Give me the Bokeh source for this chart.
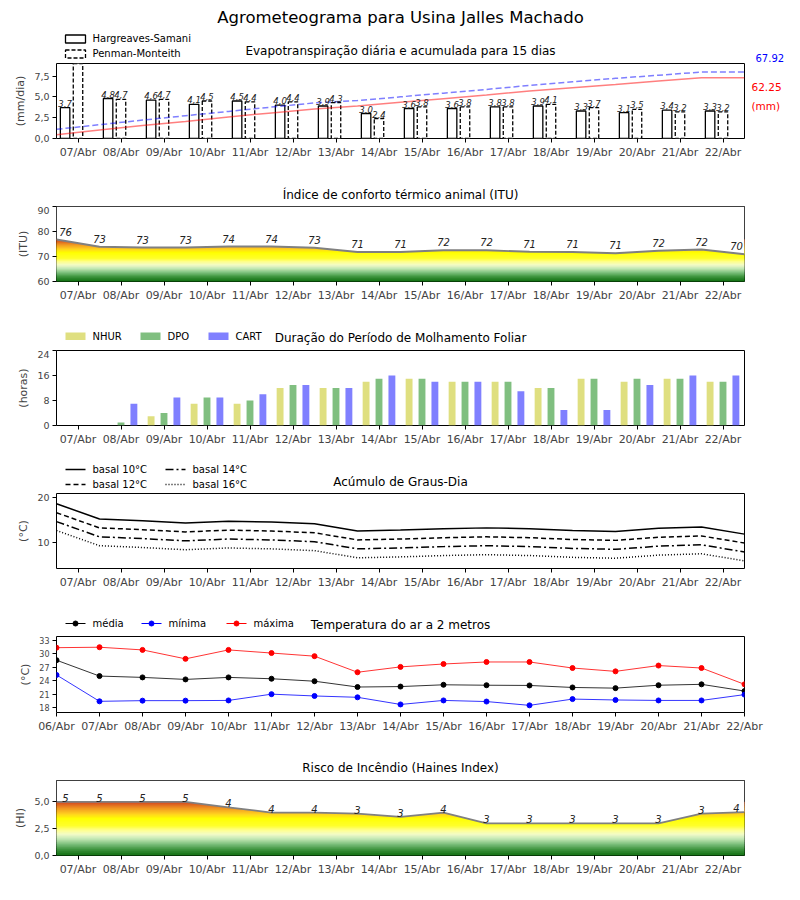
import numpy as np
from bokeh.plotting import figure
from bokeh.models import Range1d, FixedTicker, LinearAxis
from bokeh.layouts import column
from bokeh.embed import file_html
from bokeh.resources import INLINE
from bokeh.core.properties import value

# ---------------- data ----------------
main_title = "Agrometeograma para Usina Jalles Machado"
titles = ["Evapotranspiração diária e acumulada para 15 dias",
          "Índice de conforto térmico animal (ITU)",
          "Duração do Período de Molhamento Foliar",
          "Acúmulo de Graus-Dia",
          "Temperatura do ar a 2 metros",
          "Risco de Incêndio (Haines Index)"]

day_labels = ["07/Abr", "08/Abr", "09/Abr", "10/Abr", "11/Abr", "12/Abr", "13/Abr", "14/Abr",
              "15/Abr", "16/Abr", "17/Abr", "18/Abr", "19/Abr", "20/Abr", "21/Abr", "22/Abr"]
edge_labels = ["06/Abr"] + day_labels

et_names = ["Hargreaves-Samani", "Penman-Monteith"]
et_hs = [3.7, 4.8, 4.6, 4.1, 4.5, 4.0, 3.9, 3.0, 3.6, 3.6, 3.8, 3.9, 3.3, 3.1, 3.4, 3.3]
et_pm = [9.4, 4.7, 4.7, 4.5, 4.4, 4.4, 4.3, 2.4, 3.8, 3.8, 3.8, 4.1, 3.7, 3.5, 3.2, 3.2]
acc_pm = [9.4, 14.1, 18.8, 23.3, 27.7, 32.1, 36.4, 38.8, 42.6, 46.4, 50.2, 54.3, 58.0, 61.5, 64.7, 67.92, 67.92]
acc_hs = [3.75, 8.6, 13.3, 17.5, 22.1, 26.2, 30.2, 33.3, 37.0, 40.7, 44.6, 48.6, 52.0, 55.2, 58.7, 62.25, 62.25]
acc_pm_total = "67.92"
acc_hs_total = "62.25"

itu = [76.8, 73.9, 73.6, 73.6, 74.0, 74.0, 73.5, 71.8, 71.8, 72.5, 72.5, 71.9, 71.8, 71.3, 72.3, 72.8, 70.9]

wet_names = ["NHUR", "DPO", "CART"]
nhur = [0, 0, 3, 7, 7, 12, 12, 14, 15, 14, 14, 12, 15, 14, 15, 14]
dpo = [0, 1, 4, 9, 8, 13, 12, 15, 15, 14, 14, 12, 15, 15, 15, 14]
cart = [0, 7, 9, 9, 10, 13, 12, 16, 14, 14, 11, 5, 5, 13, 16, 16]

gd_names = ["basal 10°C", "basal 12°C", "basal 14°C", "basal 16°C"]
gd10 = [18.7, 15.3, 14.9, 14.4, 14.8, 14.6, 14.2, 12.6, 12.8, 13.1, 13.3, 13.1, 12.7, 12.5, 13.2, 13.5, 11.9]
gd12 = [16.7, 13.3, 12.9, 12.4, 12.8, 12.6, 12.2, 10.6, 10.8, 11.1, 11.3, 11.1, 10.7, 10.5, 11.2, 11.5, 9.9]
gd14 = [14.7, 11.3, 10.9, 10.4, 10.8, 10.6, 10.2, 8.6, 8.8, 9.1, 9.3, 9.1, 8.7, 8.5, 9.2, 9.5, 7.9]
gd16 = [12.7, 9.3, 8.9, 8.4, 8.8, 8.6, 8.2, 6.6, 6.8, 7.1, 7.3, 7.1, 6.7, 6.5, 7.2, 7.5, 5.9]

t_names = ["média", "mínima", "máxima"]
t_max = [31.4, 31.5, 30.9, 28.9, 30.9, 30.2, 29.5, 25.9, 27.1, 27.75, 28.2, 28.2, 26.85, 26.1, 27.4, 26.85, 23.2]
t_med = [28.6, 25.05, 24.75, 24.3, 24.75, 24.45, 23.9, 22.6, 22.7, 23.1, 23.0, 22.95, 22.5, 22.35, 23.0, 23.2, 21.7]
t_min = [25.3, 19.4, 19.55, 19.55, 19.6, 21.0, 20.6, 20.3, 18.7, 19.6, 19.35, 18.5, 19.9, 19.7, 19.6, 19.6, 20.9]

haines = [5.0, 5.0, 5.0, 5.0, 4.5, 4.0, 4.0, 3.9, 3.6, 4.0, 3.0, 3.0, 3.0, 3.0, 3.0, 3.9, 4.05]

# ---------------- helpers ----------------
FONT = "DejaVu Sans"
x_day = np.arange(len(day_labels), dtype=float)
x_edge = np.arange(len(edge_labels), dtype=float) - 0.5

grad_stops = [(0.00, "#0b6b0b"), (0.12, "#3a923a"), (0.22, "#7cc07c"), (0.32, "#c4e8b4"),
              (0.40, "#f2fcc8"), (0.48, "#ffff8c"), (0.56, "#ffff28"), (0.70, "#ffff00"),
              (0.78, "#ffd21e"), (0.88, "#f39a1e"), (1.00, "#d2461e")]


def hex2rgb(h):
    return [int(h[i:i + 2], 16) for i in (1, 3, 5)]


def grad_color(f):
    f = min(max(f, 0.0), 1.0)
    for (f0, c0), (f1, c1) in zip(grad_stops, grad_stops[1:]):
        if f <= f1:
            t = (f - f0) / (f1 - f0)
            a, b = hex2rgb(c0), hex2rgb(c1)
            c = [round(a[k] + (b[k] - a[k]) * t) for k in range(3)]
            return "#%02x%02x%02x" % tuple(c)
    return grad_stops[-1][1]


def htext(p, x, y, txt, size="10px", align="left", color="black"):
    p.text(x=[x], y=[y], text=[txt], text_align=align, text_baseline="middle",
           text_font=value(FONT), text_font_size=size, text_color=color)


def make_header(h, title, title_y):
    # header strip in page-pixel coordinates (x: page px, y: px from the strip top)
    p = figure(frame_width=688, frame_height=h, min_border_left=56, min_border_right=56,
               min_border_top=0, min_border_bottom=0, x_range=Range1d(56, 744),
               y_range=Range1d(h, 0), x_axis_location=None, y_axis_location=None,
               output_backend="svg", toolbar_location=None, title=None)
    p.outline_line_color = None
    p.xgrid.visible = False
    p.ygrid.visible = False
    p.background_fill_color = "white"
    p.border_fill_color = "white"
    htext(p, 400, title_y, title, size="12px", align="center")
    return p


def make_fig(ylabel, y0, y1, yticks, yover=None, edge_ticks=False, ytick_size="9.5px", fh=75):
    p = figure(frame_width=688, frame_height=fh, min_border_left=56, min_border_right=56,
               min_border_top=0, min_border_bottom=25, x_range=Range1d(-0.5, 15.5),
               y_range=Range1d(y0, y1), output_backend="svg", toolbar_location=None,
               title=None)
    p.xgrid.visible = False
    p.ygrid.visible = False
    p.outline_line_color = "black"
    p.outline_line_alpha = 1
    p.outline_line_width = 1
    p.background_fill_color = "white"
    p.border_fill_color = "white"
    if edge_ticks:
        p.xaxis.ticker = FixedTicker(ticks=list(x_edge))
        p.xaxis.major_label_overrides = {float(x): l for x, l in zip(x_edge, edge_labels)}
    else:
        p.xaxis.ticker = FixedTicker(ticks=list(x_day))
        p.xaxis.major_label_overrides = {float(x): l for x, l in zip(x_day, day_labels)}
    p.yaxis.ticker = FixedTicker(ticks=yticks)
    if yover:
        p.yaxis.major_label_overrides = yover
    for ax in (p.xaxis, p.yaxis):
        ax.axis_line_color = None
        ax.major_tick_line_color = "black"
        ax.major_tick_out = 4
        ax.major_tick_in = 0
        ax.minor_tick_line_color = None
        ax.major_label_text_font = FONT
        ax.major_label_standoff = 3
    p.xaxis.major_label_text_font_size = "11px"
    p.yaxis.major_label_text_font_size = ytick_size
    p.yaxis.axis_label = ylabel
    p.yaxis.axis_label_text_font = FONT
    p.yaxis.axis_label_text_font_size = "11px"
    p.yaxis.axis_label_text_font_style = "normal"
    p.yaxis.axis_label_standoff = 4
    return p


def right_axis(p, range_name, ticks, labels, color, standoff, size="10px"):
    ax = LinearAxis(y_range_name=range_name, ticker=FixedTicker(ticks=ticks),
                    major_label_overrides=dict(zip(ticks, labels)))
    ax.axis_line_color = None
    ax.major_tick_line_color = None
    ax.major_tick_out = 0
    ax.major_tick_in = 0
    ax.minor_tick_line_color = None
    ax.minor_tick_out = 0
    ax.major_label_standoff = standoff
    ax.major_label_text_color = color
    ax.major_label_text_font = FONT
    ax.major_label_text_font_size = size
    p.add_layout(ax, "right")


def gradient_area(p, xs, ys, y0, ytop):
    ymax = max(ys)
    n = 80
    edges = np.linspace(y0, ymax, n + 1)
    cols = [grad_color((i + 0.5) / n) for i in range(n)]
    p.quad(left=-0.5, right=15.5, bottom=edges[:-1], top=edges[1:], fill_color=cols,
           line_color=cols, line_width=0.6)
    p.varea(x=xs, y1=ys, y2=ytop, fill_color="white")
    p.line(xs, ys, line_color="#808080", line_width=1.8)


fmt = lambda v: ("%.1f" % v).replace(".", ",")

# ---------------- header 1 + panel 1: evapotranspiration ----------------
ET_TOP = 9.0
h1 = make_header(63, titles[0], 50)
htext(h1, 400, 17, main_title, size="16.5px", align="center")
h1.extra_y_ranges = {"px": Range1d(63, 0)}
right_axis(h1, "px", [57.5], [acc_pm_total], "blue", 11)
for yc, dash, name in ((38.5, "solid", et_names[0]), (53.5, "4 2", et_names[1])):
    h1.quad(left=65, right=85, top=yc - 4, bottom=yc + 4, fill_color="white",
            line_color="black", line_width=1.3, line_dash=dash)
    htext(h1, 92, yc - 0.5, name)

p1 = make_fig("(mm/dia)", 0, ET_TOP, [0, 2.5, 5, 7.5], {0: "0,0", 2.5: "2,5", 5: "5,0", 7.5: "7,5"})
p1.extra_y_ranges = {"acc": Range1d(0, 76.7), "px": Range1d(0, 75)}
p1.vbar(x=x_day - 0.3, top=et_hs, width=0.22, fill_color="white", line_color="black",
        line_width=1.3)
p1.vbar(x=x_day, top=et_pm, width=0.22, fill_color="white", line_color="black",
        line_width=1.3, line_dash="4 2")
p1.line(x_edge, acc_pm, y_range_name="acc", line_color="blue", line_alpha=0.5,
        line_dash="6 3", line_width=1.5)
p1.line(x_edge, acc_hs, y_range_name="acc", line_color="red", line_alpha=0.5, line_width=1.5)
for xs, vals in ((x_day - 0.3, et_hs), (x_day, et_pm)):
    keep = [i for i, v in enumerate(vals) if v < ET_TOP - 0.8]   # labels above the frame are not shown
    p1.text(x=[xs[i] for i in keep], y=[vals[i] for i in keep], text=[fmt(vals[i]) for i in keep],
            text_align="center", text_baseline="bottom", y_offset=-1, text_font=value(FONT),
            text_font_style="italic", text_font_size="8.5px", text_color="#222222")
right_axis(p1, "px", [52, 33], [acc_hs_total, "(mm)"], "red", 7, size="10.5px")

# ---------------- header 2 + panel 2: ITU ----------------
h2 = make_header(43, titles[1], 31)
p2 = make_fig("(ITU)", 60, 90, [60, 70, 80, 90])
gradient_area(p2, x_edge, itu, 60, 90)
xoff = [9] + [0] * (len(itu) - 2) + [-8]
p2.text(x=x_edge, y=itu, text=[str(int(v)) for v in itu], x_offset=xoff, text_align="center",
        text_baseline="bottom", y_offset=-4, text_font=value(FONT), text_font_style="italic",
        text_font_size="10px", text_color="#222222")

# ---------------- header 3 + panel 3: leaf wetness ----------------
wet_colors = ["#dfdf80", "#80bf80", "#8080ff"]
h3 = make_header(44, titles[2], 31)
for x0, col, name in zip((65, 140, 208), wet_colors, wet_names):
    h3.quad(left=x0, right=x0 + 20, top=26, bottom=33.5, fill_color=col, line_color=None)
    htext(h3, x0 + 27, 30, name)

p3 = make_fig("(horas)", 0, 24, [0, 8, 16, 24])
for off, vals, col in zip((-0.3, 0.0, 0.3), (nhur, dpo, cart), wet_colors):
    p3.vbar(x=x_day + off, top=vals, width=0.16, fill_color=col, line_color=None)

# ---------------- header 4 + panel 4: degree days ----------------
dashes = ["solid", "5 3", "8 3 2 3", "1 2"]
h4 = make_header(43, titles[3], 31)
for (x0, yc), d, name in zip(((65, 19), (65, 34), (165, 19), (165, 34)), dashes, gd_names):
    h4.segment(x0=x0, y0=yc, x1=x0 + 20, y1=yc, line_color="black", line_width=1.5, line_dash=d)
    htext(h4, x0 + 27, yc, name)

p4 = make_fig("(°C)", 4.2, 21, [10, 20])
for vals, d in zip((gd10, gd12, gd14, gd16), dashes):
    p4.line(x_edge, vals, line_color="black", line_width=1.5, line_dash=d)

# ---------------- header 5 + panel 5: temperature ----------------
t_colors = ["black", "blue", "red"]
h5 = make_header(43, titles[4], 31)
for x0, col, name in zip((65, 141, 226), t_colors, t_names):
    h5.segment(x0=x0, y0=30, x1=x0 + 20, y1=30, line_color=col, line_width=1)
    h5.scatter(x=[x0 + 10], y=[30], size=5, fill_color=col, line_color=col)
    htext(h5, x0 + 27, 30, name)

p5 = make_fig("(°C)", 16.9, 33.9, [18, 21, 24, 27, 30, 33], edge_ticks=True, ytick_size="8px", fh=76)
for vals, col in zip((t_med, t_min, t_max), t_colors):
    p5.line(x_edge, vals, line_color=col, line_width=1, line_alpha=0.8)
    p5.scatter(x_edge, vals, size=5, fill_color=col, line_color=col)

# ---------------- header 6 + panel 6: Haines ----------------
h6 = make_header(43, titles[5], 30)
p6 = make_fig("(HI)", 0, 7, [0, 2.5, 5], {0: "0,0", 2.5: "2,5", 5: "5,0"})
gradient_area(p6, x_edge, haines, 0, 7)
p6.text(x=x_edge, y=haines, text=[str(int(v)) for v in haines], x_offset=xoff, text_align="center",
        text_baseline="bottom", y_offset=0, text_font=value(FONT), text_font_style="italic",
        text_font_size="10px", text_color="#222222")

layout = column(h1, p1, h2, p2, h3, p3, h4, p4, h5, p5, h6, p6, spacing=0)
open("out.html", "w").write(file_html(layout, INLINE))
